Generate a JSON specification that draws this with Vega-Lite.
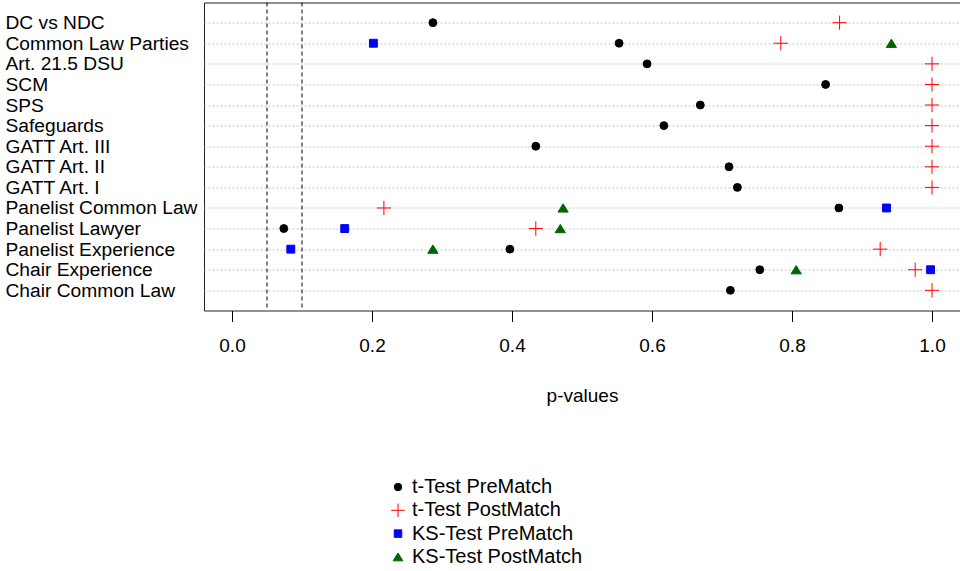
{
  "$schema": "https://vega.github.io/schema/vega-lite/v6.json",
  "autosize": {"type": "none"},
  "padding": {"left": 204, "top": 2.5, "right": 0, "bottom": 260.5},
  "width": 756,
  "height": 308,
  "background": "white",
  "config": {
    "font": "Liberation Sans",
    "view": {"stroke": "#222", "strokeWidth": 1},
    "axis": {"labelColor": "black", "titleColor": "black", "labelFont": "Liberation Sans", "titleFont": "Liberation Sans"},
    "legend": {"labelLimit": 0}
  },
  "layer": [
    {
      "data": {"values": [{"x": 0.05}, {"x": 0.1}]},
      "mark": {"type": "rule", "color": "black", "strokeDash": [4, 3], "strokeWidth": 1},
      "encoding": {
        "x": {"field": "x", "type": "quantitative", "scale": {"domain": [-0.04, 1.04], "nice": false, "zero": false}}
      }
    },
    {
      "data": {"values": [
        {"var": "DC vs NDC", "test": "t-Test PreMatch", "p": 0.287},
        {"var": "DC vs NDC", "test": "t-Test PostMatch", "p": 0.868},
        {"var": "Common Law Parties", "test": "t-Test PreMatch", "p": 0.553},
        {"var": "Common Law Parties", "test": "t-Test PostMatch", "p": 0.784},
        {"var": "Common Law Parties", "test": "KS-Test PreMatch", "p": 0.202},
        {"var": "Common Law Parties", "test": "KS-Test PostMatch", "p": 0.942},
        {"var": "Art. 21.5 DSU", "test": "t-Test PreMatch", "p": 0.593},
        {"var": "Art. 21.5 DSU", "test": "t-Test PostMatch", "p": 1.0},
        {"var": "SCM", "test": "t-Test PreMatch", "p": 0.848},
        {"var": "SCM", "test": "t-Test PostMatch", "p": 1.0},
        {"var": "SPS", "test": "t-Test PreMatch", "p": 0.669},
        {"var": "SPS", "test": "t-Test PostMatch", "p": 1.0},
        {"var": "Safeguards", "test": "t-Test PreMatch", "p": 0.617},
        {"var": "Safeguards", "test": "t-Test PostMatch", "p": 1.0},
        {"var": "GATT Art. III", "test": "t-Test PreMatch", "p": 0.434},
        {"var": "GATT Art. III", "test": "t-Test PostMatch", "p": 1.0},
        {"var": "GATT Art. II", "test": "t-Test PreMatch", "p": 0.71},
        {"var": "GATT Art. II", "test": "t-Test PostMatch", "p": 1.0},
        {"var": "GATT Art. I", "test": "t-Test PreMatch", "p": 0.722},
        {"var": "GATT Art. I", "test": "t-Test PostMatch", "p": 1.0},
        {"var": "Panelist Common Law", "test": "t-Test PreMatch", "p": 0.867},
        {"var": "Panelist Common Law", "test": "t-Test PostMatch", "p": 0.217},
        {"var": "Panelist Common Law", "test": "KS-Test PreMatch", "p": 0.935},
        {"var": "Panelist Common Law", "test": "KS-Test PostMatch", "p": 0.473},
        {"var": "Panelist Lawyer", "test": "t-Test PreMatch", "p": 0.074},
        {"var": "Panelist Lawyer", "test": "t-Test PostMatch", "p": 0.434},
        {"var": "Panelist Lawyer", "test": "KS-Test PreMatch", "p": 0.161},
        {"var": "Panelist Lawyer", "test": "KS-Test PostMatch", "p": 0.469},
        {"var": "Panelist Experience", "test": "t-Test PreMatch", "p": 0.397},
        {"var": "Panelist Experience", "test": "t-Test PostMatch", "p": 0.926},
        {"var": "Panelist Experience", "test": "KS-Test PreMatch", "p": 0.084},
        {"var": "Panelist Experience", "test": "KS-Test PostMatch", "p": 0.287},
        {"var": "Chair Experience", "test": "t-Test PreMatch", "p": 0.754},
        {"var": "Chair Experience", "test": "t-Test PostMatch", "p": 0.976},
        {"var": "Chair Experience", "test": "KS-Test PreMatch", "p": 0.998},
        {"var": "Chair Experience", "test": "KS-Test PostMatch", "p": 0.806},
        {"var": "Chair Common Law", "test": "t-Test PreMatch", "p": 0.712},
        {"var": "Chair Common Law", "test": "t-Test PostMatch", "p": 1.0}
      ]},
      "mark": {"type": "point", "size": 62, "strokeWidth": 1, "opacity": 1},
      "encoding": {
        "x": {
          "field": "p", "type": "quantitative",
          "scale": {"domain": [-0.04, 1.04], "nice": false, "zero": false},
          "axis": {"title": "p-values", "values": [0, 0.2, 0.4, 0.6, 0.8, 1.0], "format": ".1f",
                   "domain": false, "grid": false, "tickColor": "black", "tickSize": 11,
                   "labelFontSize": 19, "labelPadding": 15, "labelFlush": false,
                   "titleFontSize": 19, "titleFontWeight": "normal", "titlePadding": 31}
        },
        "y": {
          "field": "var", "type": "nominal",
          "sort": ["DC vs NDC", "Common Law Parties", "Art. 21.5 DSU", "SCM", "SPS", "Safeguards", "GATT Art. III", "GATT Art. II", "GATT Art. I", "Panelist Common Law", "Panelist Lawyer", "Panelist Experience", "Chair Experience", "Chair Common Law"],
          "scale": {"type": "point", "padding": 0.98},
          "axis": {"title": null, "domain": false, "ticks": false, "labelAlign": "left", "labelPadding": 199,
                   "labelFontSize": 19.2, "labelLimit": 0,
                   "grid": true, "gridDash": [2, 2], "gridColor": "#c4c4c4", "gridWidth": 1}
        },
        "fill": {
          "field": "test", "type": "nominal",
          "scale": {"domain": ["t-Test PreMatch", "t-Test PostMatch", "KS-Test PreMatch", "KS-Test PostMatch"],
                    "range": ["black", "transparent", "blue", "#006400"]},
          "legend": {"title": null, "orient": "none", "legendX": 184, "legendY": 474.5, "labelFontSize": 20, "labelOffset": 4, "rowPadding": 3.3, "symbolSize": 56, "symbolStrokeWidth": 1, "labelColor": "black", "labelLimit": 0}
        },
        "stroke": {
          "field": "test", "type": "nominal",
          "scale": {"domain": ["t-Test PreMatch", "t-Test PostMatch", "KS-Test PreMatch", "KS-Test PostMatch"],
                    "range": ["black", "red", "blue", "#006400"]},
          "legend": {"title": null, "orient": "none", "legendX": 184, "legendY": 474.5, "labelFontSize": 20, "labelOffset": 4, "rowPadding": 3.3, "symbolSize": 56, "symbolStrokeWidth": 1, "labelColor": "black", "labelLimit": 0}
        },
        "shape": {
          "field": "test", "type": "nominal",
          "scale": {"domain": ["t-Test PreMatch", "t-Test PostMatch", "KS-Test PreMatch", "KS-Test PostMatch"],
                    "range": ["circle", "M-1.8,0H1.8M0,-1.8V1.8", "square", "M0,-1.05L1.3,1.05L-1.3,1.05Z"]},
          "legend": {"title": null, "orient": "none", "legendX": 184, "legendY": 474.5, "labelFontSize": 20, "labelOffset": 4, "rowPadding": 3.3, "symbolSize": 56, "symbolStrokeWidth": 1, "labelColor": "black", "labelLimit": 0}
        }
      }
    }
  ]
}
